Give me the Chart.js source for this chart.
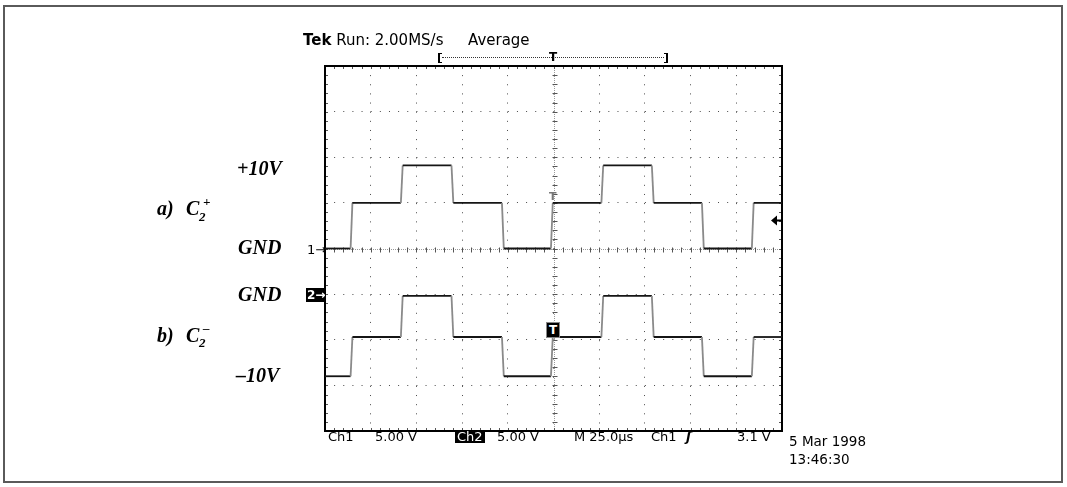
<!DOCTYPE html>
<html>
<head>
<meta charset="utf-8">
<script src="https://cdn.jsdelivr.net/npm/chart.js@4.4.1/dist/chart.umd.min.js"></script>
<style>
  html, body { margin: 0; padding: 0; background: #fff; }
  #wrap { position: relative; width: 1067px; height: 487px; overflow: hidden; }
  #scope { position: absolute; left: 0; top: 0; }
  .frame { position: absolute; left: 3px; top: 5px; width: 1056px; height: 474px; border: 2px solid #5a5a5a; }
  .t { position: absolute; white-space: nowrap; line-height: 1; color: #000; font-family: "DejaVu Sans", sans-serif; font-size: 13px; }
  .big { font-size: 15px; }
  .date { font-size: 13.5px; }
  .lbl { position: absolute; white-space: nowrap; line-height: 1; font-family: "Liberation Serif", "Times New Roman", serif; font-weight: bold; font-style: italic; font-size: 20px; }
  .sm { font-size: 13px; }
  .inv { background: #000; color: #fff; }
  .brk { position: absolute; top: 53px; width: 2px; height: 8px; border-top: 1px solid #000; border-bottom: 1px solid #000; }
</style>
</head>
<body>
<div id="wrap">
  <div class="frame"></div>
  <canvas id="scope" width="1067" height="487"></canvas>

  <div class="t big" style="left:303px; top:33px;"><b>Tek</b> Run: 2.00MS/s</div>
  <div class="t big" style="left:468px; top:33px;">Average</div>
  <div class="brk" style="left:438px; border-left:2px solid #000;"></div>
  <div style="position:absolute; left:442px; top:57px; width:222px; border-top:1px dotted #333;"></div>
  <div class="brk" style="left:664px; border-right:2px solid #000;"></div>
  <div class="t" style="left:549px; top:51px; font-weight:bold; font-size:12px;">T</div>

  <div class="lbl" style="left:237px; top:158px;">+10V</div>
  <div class="lbl" style="left:157px; top:198px;">a)</div>
  <div class="lbl" style="left:186px; top:198px;">C</div>
  <div class="lbl sm" style="left:199px; top:210px;">2</div>
  <div class="lbl sm" style="left:203px; top:195px;">+</div>
  <div class="lbl" style="left:238px; top:237px;">GND</div>
  <div class="lbl" style="left:238px; top:284px;">GND</div>
  <div class="lbl" style="left:157px; top:325px;">b)</div>
  <div class="lbl" style="left:186px; top:325px;">C</div>
  <div class="lbl sm" style="left:199px; top:336px;">2</div>
  <div class="lbl sm" style="left:203px; top:321px;">–</div>
  <div class="lbl" style="left:236px; top:365px;">–10V</div>

  <div class="t" style="left:307px; top:243px;">1→</div>
  <div class="t inv" style="left:306px; top:288px; height:14px; padding:0 1px; font-size:12px; font-weight:bold; line-height:14px;">2→</div>
  <div class="t" style="left:549px; top:191px; font-size:11px; font-weight:bold; color:#777;">T</div>
  <div class="t inv" style="left:547px; top:323px; width:12px; height:14px; line-height:14px; text-align:center; font-size:12px; font-weight:bold; outline:1px solid #888;">T</div>

  <div class="t" style="left:328px; top:430px;">Ch1</div>
  <div class="t" style="left:375px; top:430px;">5.00 V</div>
  <div class="t inv" style="left:455px; top:430px; padding:0 2px;">Ch2</div>
  <div class="t" style="left:497px; top:430px;">5.00 V</div>
  <div class="t" style="left:574px; top:430px;">M 25.0µs</div>
  <div class="t" style="left:651px; top:430px;">Ch1</div>
  <div class="t" style="left:686px; top:430px; font-style:italic; font-weight:bold;">ʃ</div>
  <div class="t" style="left:737px; top:430px;">3.1 V</div>
  <div class="t date" style="left:789px; top:435px;">5 Mar 1998</div>
  <div class="t date" style="left:789px; top:453px;">13:46:30</div>
</div>

<script>
// transition times of the stepped waveforms (µs from left edge of screen)
const edgeTimesUs = [14, 41.5, 69.2, 96.8, 123.6, 151.2, 178.8, 206.2, 233.5];
// level of each segment between edges (V)
const c2PlusVolts = [0, 5, 9.1, 5, 0, 5, 9.1, 5, 0, 5];
const c2MinusVolts = [-9, -4.7, -0.2, -4.7, -9, -4.7, -0.2, -4.7, -9, -4.7];
const edgeUs = 1;
const sweepUs = 250;      // 10 div x 25 µs
const voltsPerDiv = 5;
const triggerLevelV = 3.1;

function stepTrace(levels) {
  const pts = [{ x: 0, y: levels[0] }];
  edgeTimesUs.forEach((t, i) => {
    pts.push({ x: t, y: levels[i] });
    pts.push({ x: t + edgeUs, y: levels[i + 1] });
  });
  pts.push({ x: sweepUs, y: levels[levels.length - 1] });
  return pts;
}

const edgeGray = ctx => ctx.p0.parsed.y !== ctx.p1.parsed.y ? '#8a8a8a' : '#151515';

const graticule = {
  id: 'graticule',
  beforeDatasetsDraw(chart) {
    const { ctx, chartArea: a, scales: { x, y } } = chart;
    const cx = Math.round(x.getPixelForValue(sweepUs / 2)) + 0.5;
    const cy = Math.round(y.getPixelForValue(0)) + 0.5;
    ctx.save();
    ctx.lineWidth = 1;
    ctx.strokeStyle = '#9a9a9a';
    ctx.setLineDash([1, 1]);
    ctx.beginPath();
    ctx.moveTo(cx, a.top); ctx.lineTo(cx, a.bottom);
    ctx.moveTo(a.left, cy); ctx.lineTo(a.right, cy);
    ctx.stroke();
    ctx.setLineDash([]);
    ctx.strokeStyle = '#555';
    ctx.beginPath();
    for (let t = 0; t <= sweepUs; t += sweepUs / 50) {
      const px = Math.round(x.getPixelForValue(t)) + 0.5;
      ctx.moveTo(px, a.top); ctx.lineTo(px, a.top + 3);
      ctx.moveTo(px, a.bottom); ctx.lineTo(px, a.bottom - 3);
      ctx.moveTo(px, cy - 2); ctx.lineTo(px, cy + 3);
    }
    for (let v = -4 * voltsPerDiv; v <= 4 * voltsPerDiv; v += voltsPerDiv / 5) {
      const py = Math.round(y.getPixelForValue(v)) + 0.5;
      ctx.moveTo(a.left, py); ctx.lineTo(a.left + 3, py);
      ctx.moveTo(a.right, py); ctx.lineTo(a.right - 3, py);
      ctx.moveTo(cx - 2, py); ctx.lineTo(cx + 3, py);
    }
    ctx.stroke();
    ctx.strokeStyle = '#000';
    ctx.lineWidth = 2;
    ctx.strokeRect(a.left, a.top, a.right - a.left, a.bottom - a.top);
    ctx.restore();
  },
  afterDatasetsDraw(chart) {
    const { ctx, chartArea: a, scales: { y } } = chart;
    const py = Math.round(y.getPixelForValue(triggerLevelV)) + 0.5;
    ctx.save();
    ctx.fillStyle = '#000';
    ctx.strokeStyle = '#000';
    ctx.lineWidth = 2;
    ctx.beginPath();
    ctx.moveTo(a.right - 11, py);
    ctx.lineTo(a.right - 5, py - 5);
    ctx.lineTo(a.right - 5, py + 5);
    ctx.closePath();
    ctx.fill();
    ctx.beginPath();
    ctx.moveTo(a.right - 6, py); ctx.lineTo(a.right, py);
    ctx.stroke();
    ctx.restore();
  }
};

const gridStyle = { color: '#4a4a4a', lineWidth: 1, drawTicks: false };

new Chart(document.getElementById('scope'), {
  type: 'line',
  data: {
    datasets: [
      { label: 'C2+', data: stepTrace(c2PlusVolts), yAxisID: 'y', borderColor: '#151515', borderWidth: 1.8, pointRadius: 0, tension: 0, segment: { borderColor: edgeGray } },
      { label: 'C2-', data: stepTrace(c2MinusVolts), yAxisID: 'y2', borderColor: '#151515', borderWidth: 1.8, pointRadius: 0, tension: 0, segment: { borderColor: edgeGray } }
    ]
  },
  options: {
    responsive: false,
    animation: false,
    devicePixelRatio: 1,
    layout: { padding: { left: 325, top: 66, right: 285, bottom: 56 } },
    plugins: { legend: { display: false }, tooltip: { enabled: false } },
    scales: {
      x: { type: 'linear', min: 0, max: sweepUs, ticks: { display: false, stepSize: sweepUs / 10 }, grid: gridStyle, border: { display: false, dash: [1, 8.14] } },
      y: { min: -4 * voltsPerDiv, max: 4 * voltsPerDiv, ticks: { display: false, stepSize: voltsPerDiv }, grid: gridStyle, border: { display: false, dash: [1, 8.14] } },
      y2: { display: false, min: -3 * voltsPerDiv, max: 5 * voltsPerDiv }
    }
  },
  plugins: [graticule]
});
</script>
</body>
</html>
